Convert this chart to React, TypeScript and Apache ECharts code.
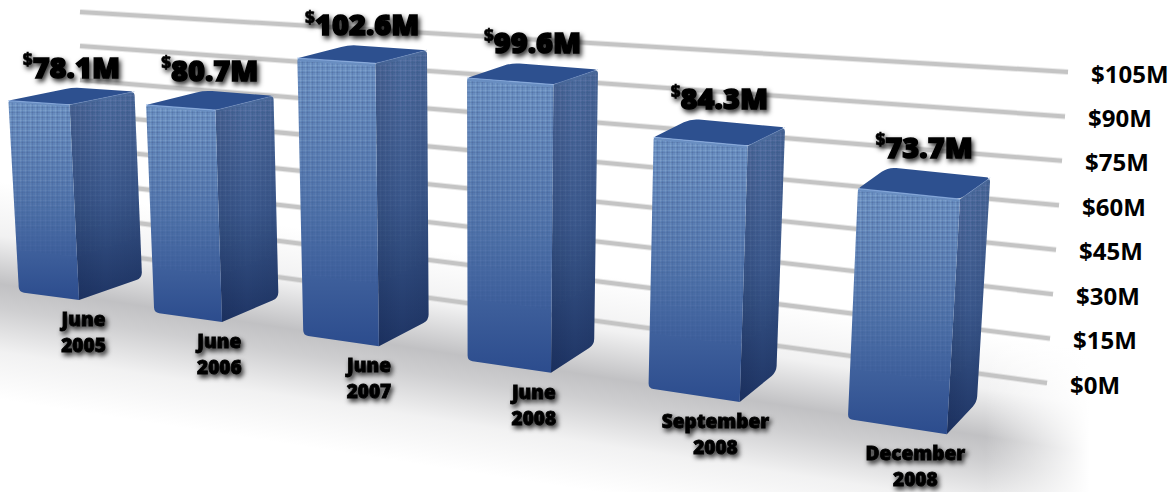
import React, { useEffect, useRef } from "react";
import * as echarts from "echarts";

const categories = ["June\n2005", "June\n2006", "June\n2007", "June\n2008", "September\n2008", "December\n2008"];
const values = [78.1, 80.7, 102.6, 99.6, 84.3, 73.7];
const tickValues = [0, 15, 30, 45, 60, 75, 90, 105];
const tickLabels = ["$0M", "$15M", "$30M", "$45M", "$60M", "$75M", "$90M", "$105M"];

const FONT = '"Open Sans", "Noto Sans", sans-serif';
const GRID_H = 315;
const R = 1.097;

type P = [number, number];

function geo(n: number, d: number, r: number) {
  return (d * (Math.pow(r, n) - 1)) / (r - 1);
}

function roundedPath(pts: P[], radius: number | number[]) {
  const n = pts.length;
  let d = "";
  for (let i = 0; i < n; i++) {
    const rad = Array.isArray(radius) ? radius[i] : radius;
    const p = pts[i];
    const a = pts[(i - 1 + n) % n];
    const b = pts[(i + 1) % n];
    const la = Math.hypot(a[0] - p[0], a[1] - p[1]);
    const lb = Math.hypot(b[0] - p[0], b[1] - p[1]);
    const ra = Math.min(rad, la / 2) / la;
    const rb = Math.min(rad, lb / 2) / lb;
    const s: P = [p[0] + (a[0] - p[0]) * ra, p[1] + (a[1] - p[1]) * ra];
    const e: P = [p[0] + (b[0] - p[0]) * rb, p[1] + (b[1] - p[1]) * rb];
    d += (i === 0 ? "M" : "L") + s[0].toFixed(1) + " " + s[1].toFixed(1);
    d += "Q" + p[0].toFixed(1) + " " + p[1].toFixed(1) + " " + e[0].toFixed(1) + " " + e[1].toFixed(1);
  }
  return d + "Z";
}

function plainPath(pts: P[]) {
  return pts.map((p, i) => (i === 0 ? "M" : "L") + p[0].toFixed(1) + " " + p[1].toFixed(1)).join("") + "Z";
}

function vgrad(stops: [number, string][]) {
  return {
    type: "linear",
    x: 0,
    y: 0,
    x2: 0,
    y2: 1,
    colorStops: stops.map(([offset, color]) => ({ offset, color })),
  };
}

function makeTexture() {
  const c = document.createElement("canvas");
  c.width = 5;
  c.height = 5;
  const g = c.getContext("2d")!;
  g.fillStyle = "rgba(255,255,255,0.07)";
  g.fillRect(0, 0, 1, 5);
  g.fillRect(0, 0, 5, 1);
  g.fillStyle = "rgba(10,30,70,0.08)";
  g.fillRect(2, 0, 1, 5);
  g.fillRect(0, 2, 5, 1);
  return c;
}

export default function App() {
  const ref = useRef<HTMLDivElement>(null);

  useEffect(() => {
    const chart = echarts.init(ref.current!, null, { renderer: "svg" });
    const texture = { image: makeTexture(), repeat: "repeat" };

    const sn = -0.153;
    const cs = 0.988;
    const cx = 500;
    const cy = 368;
    const spread = 108;

    const renderGridLine = (_: any, api: any) => {
      const v = api.value(1);
      const h = api.size([0, v])[1];
      const i = tickValues.indexOf(v);
      const f = h / GRID_H;
      const lx = 140;
      const ly = 258 - 242.4 * f;
      const rx = 1047 + 21 * f;
      const ry = 383 - 311 * f;
      const sl = (ry - ly) / (rx - lx);
      const x0 = 80;
      const y0 = ly + (x0 - lx) * sl;
      return {
        type: "group",
        children: [
          { type: "line", shape: { x1: x0, y1: y0, x2: rx, y2: ry }, style: { stroke: "rgba(190,190,190,0.35)", lineWidth: 6, fill: null } },
          { type: "line", shape: { x1: x0, y1: y0, x2: rx, y2: ry }, style: { stroke: "#c4c4c4", lineWidth: 4, fill: null } },
          {
            type: "text",
            x: rx + 23,
            y: ry + 1,
            style: {
              text: tickLabels[i],
              fontFamily: FONT,
              fontWeight: 700,
              fontSize: 24,
              fill: "#000",
              align: "left",
              verticalAlign: "middle",
            },
          },
        ],
      };
    };

    const renderBar = (params: any, api: any) => {
      const i = api.value(0);
      const v = api.value(1);
      const band = api.size([1, 0])[0];
      const pos = api.coord([i, 0])[0] / band - 0.5;
      const mx = 79 + geo(pos, 143, R);
      const my = 300 + geo(pos, 22, 1.1);
      const unit = api.size([0, v])[1] * 0.8333 * Math.pow(1.05, pos);

      const LB: P = [mx - 60 - 7.8 * pos, my - 8 - 1.45 * pos];
      const MB: P = [mx, my];
      const RB: P = [mx + 63 - 6.6 * pos, my - 22 - 2 * pos];
      const top = (b: P, k: number): P => {
        const h = unit * k;
        return [b[0] + (b[0] - 480) * 0.00012 * h, b[1] - h];
      };
      const LT = top(LB, 0.98);
      const MT = top(MB, 1);
      const RT = top(RB, 0.955);
      const BT: P = [LT[0] + RT[0] - MT[0], LT[1] + RT[1] - MT[1]];
      const split = (a: P, b: P, t: number): P => [a[0] + (b[0] - a[0]) * t, a[1] + (b[1] - a[1]) * t];

      const front = roundedPath([LT, MT, MB, LB], [2, 0, 0, 5]);
      const side = roundedPath([MT, RT, RB, MB], [0, 4, 6, 0]);
      const bottomJoin = roundedPath([split(MB, LB, 0.12), MB, split(MB, RB, 0.12), split(MB, MT, 0.05)], [0, 6, 0, 0]);
      const cap = roundedPath([LT, BT, RT, MT], [3, 8, 4, 5]);

      const texLayers: any[] = [];
      [0.18, 0.3, 0.42, 0.54, 0.66, 0.78].forEach((t) => {
        texLayers.push({
          type: "path",
          shape: { pathData: plainPath([split(LT, LB, 0.01), split(MT, MB, 0.01), split(MT, MB, t), split(LT, LB, t)]) },
          style: { fill: texture, opacity: 0.22 },
        });
        texLayers.push({
          type: "path",
          shape: { pathData: plainPath([split(MT, MB, 0.01), split(RT, RB, 0.01), split(RT, RB, t), split(MT, MB, t)]) },
          style: { fill: texture, opacity: 0.12 },
        });
      });

      const labelX = (LT[0] + RT[0]) / 2;
      const labelY = BT[1] - 21;
      const catX = (LB[0] + RB[0]) / 2 + 3;
      const catY = my + 32;

      const shadow = {
        textShadowColor: "rgba(0,0,0,0.85)",
        textShadowBlur: 5,
        textShadowOffsetX: 2,
        textShadowOffsetY: 3,
      };

      const amount = values[params.dataIndex].toFixed(1) + "M";

      return {
        type: "group",
        children: [
          { type: "path", shape: { pathData: side }, style: { fill: vgrad([[0, "#4d6d9f"], [0.5, "#3a588c"], [1, "#1e3464"]]) } },
          { type: "path", shape: { pathData: side }, style: { fill: { type: "linear", x: 0, y: 0, x2: 1, y2: 0, colorStops: [{ offset: 0, color: "rgba(0,10,40,0.12)" }, { offset: 0.5, color: "rgba(0,10,40,0)" }, { offset: 1, color: "rgba(0,10,40,0.08)" }] } } },
          { type: "path", shape: { pathData: front }, style: { fill: vgrad([[0, "#6a8fc2"], [0.45, "#5276ad"], [0.8, "#3b5c99"], [1, "#2c4c8d"]]) } },
          { type: "path", shape: { pathData: bottomJoin }, style: { fill: "#24407a", opacity: 0 } },
          ...texLayers,
          { type: "path", shape: { pathData: cap }, style: { fill: "#2d508f" } },
          { type: "polyline", shape: { points: [LT, MT] }, style: { stroke: "rgba(140,175,225,0.8)", lineWidth: 1.2, fill: null } },
          { type: "polyline", shape: { points: [MT, RT] }, style: { stroke: "rgba(120,150,200,0.4)", lineWidth: 1, fill: null } },
          {
            type: "text",
            x: labelX,
            y: labelY,
            style: {
              text: "{s|$}{v|" + amount + "}",
              align: "center",
              verticalAlign: "middle",
              rich: {
                s: { fontFamily: FONT, fontWeight: 800, fontSize: 17, fill: "#000", verticalAlign: "top", lineHeight: 32, stroke: "#000", lineWidth: 0.5, ...shadow },
                v: { fontFamily: FONT, fontWeight: 800, fontSize: 29, fill: "#000", lineHeight: 32, stroke: "#000", lineWidth: 1.4, ...shadow },
              },
            },
          },
          {
            type: "text",
            x: catX,
            y: catY,
            style: {
              text: categories[params.dataIndex],
              fontFamily: FONT,
              fontWeight: 800,
              fontSize: 19,
              lineHeight: 26,
              fill: "#000",
              stroke: "#000",
              lineWidth: 0.8,
              align: "center",
              verticalAlign: "middle",
              ...shadow,
            },
          },
        ],
      };
    };

    chart.setOption({
      animation: false,
      backgroundColor: "#ffffff",
      grid: { left: 0, top: 50, width: 1175, height: GRID_H },
      xAxis: { type: "category", data: categories, show: false },
      yAxis: { type: "value", min: 0, max: 105, interval: 15, show: false },
      graphic: [
        {
          type: "polygon",
          z: 0,
          silent: true,
          shape: { points: [[0, 90], [1175, 270], [1175, 660], [0, 480]] },
          style: {
            fill: {
              type: "linear",
              global: true,
              x: cx - sn * spread,
              y: cy - cs * spread,
              x2: cx + sn * spread,
              y2: cy + cs * spread,
              colorStops: [
                { offset: 0, color: "rgba(120,120,125,0)" },
                { offset: 0.25, color: "rgba(120,120,125,0.1)" },
                { offset: 0.47, color: "rgba(120,120,125,0.46)" },
                { offset: 0.58, color: "rgba(120,120,125,0.36)" },
                { offset: 0.78, color: "rgba(120,120,125,0.1)" },
                { offset: 1, color: "rgba(120,120,125,0)" },
              ],
            },
          },
        },
        {
          type: "rect",
          z: 1,
          silent: true,
          shape: { x: 985, y: 230, width: 190, height: 262 },
          style: {
            fill: {
              type: "linear",
              x: 0,
              y: 0,
              x2: 1,
              y2: 0,
              colorStops: [
                { offset: 0, color: "rgba(255,255,255,0)" },
                { offset: 0.55, color: "rgba(255,255,255,1)" },
                { offset: 1, color: "rgba(255,255,255,1)" },
              ],
            },
          },
        },
      ],
      series: [
        {
          type: "custom",
          z: 3,
          silent: true,
          data: tickValues.map((v) => [0, v]),
          renderItem: renderGridLine,
        },
        {
          type: "custom",
          z: 4,
          silent: true,
          data: values.map((v, i) => [i, v]),
          renderItem: renderBar,
        },
      ],
    });
    return () => chart.dispose();
  }, []);

  return <div ref={ref} style={{ position: "fixed", left: 0, top: 0, width: 1175, height: 492 }} />;
}
